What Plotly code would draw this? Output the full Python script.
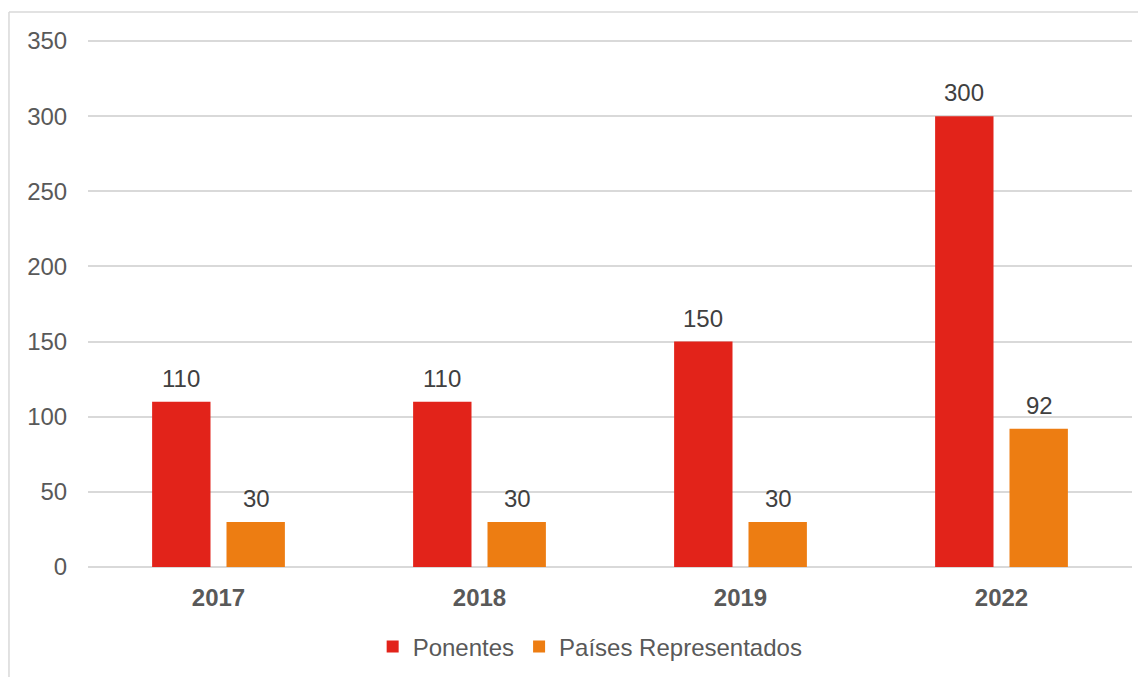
import plotly.graph_objects as go

years = ["2017", "2018", "2019", "2022"]
ponentes = [110, 110, 150, 300]
paises = [30, 30, 30, 92]
series_names = ["Ponentes", "Países Representados"]
colors = ["#E2231A", "#ED7D12"]
y_ticks = [0, 50, 100, 150, 200, 250, 300, 350]

FONT = "Liberation Sans, Arial, sans-serif"
TXT = "#595959"
FS = 24

fig = go.Figure()
for name, vals, col in zip(series_names, [ponentes, paises], colors):
    fig.add_trace(go.Bar(x=years, y=vals, name=name, marker_color=col,
                         marker_line_width=0))

# data labels (x given as category index)
for vals, shift in [(ponentes, -37.5), (paises, 37.5)]:
    for i, v in enumerate(vals):
        fig.add_annotation(x=i, y=v, xref="x", yref="y", text=str(v),
                           showarrow=False, xshift=shift, yanchor="bottom",
                           yshift=8,
                           font=dict(family=FONT, size=FS, color="#404040"))

# outer frame (chart area border); plot area spans 529px vertically
fig.add_shape(type="line", xref="paper", yref="paper",
              x0=-0.0757, x1=1.2, y0=1.0492, y1=1.0492,
              line=dict(color="#D9D9D9", width=1.5))
fig.add_shape(type="line", xref="paper", yref="paper",
              x0=-0.0757, x1=-0.0757, y0=1.0492, y1=-0.5,
              line=dict(color="#D9D9D9", width=1.5))

fig.update_layout(
    width=1146, height=677,
    margin=dict(l=80, r=22, t=30, b=118),
    paper_bgcolor="white", plot_bgcolor="white",
    barmode="group", bargap=0.43, bargroupgap=0.215,
    font=dict(family=FONT, size=FS, color=TXT),
    showlegend=True,
    legend=dict(orientation="h", x=0.481, xanchor="center", y=-0.151,
                yanchor="middle", font=dict(family=FONT, size=FS, color=TXT)),
    xaxis=dict(type="category", range=[-0.5, len(years) - 0.5],
               showgrid=False, showline=False,
               ticks="outside", ticklen=9, tickcolor="rgba(0,0,0,0)",
               tickfont=dict(family=FONT, size=FS, color=TXT, weight="bold")),
    yaxis=dict(range=[0, 352], tickvals=y_ticks, showgrid=True,
               gridcolor="#D9D9D9", gridwidth=1.5, zeroline=True,
               zerolinecolor="#D9D9D9", zerolinewidth=1.5, showline=False,
               ticks="outside", ticklen=15, tickcolor="rgba(0,0,0,0)",
               tickfont=dict(family=FONT, size=FS, color=TXT)),
)

fig.write_html("out.html")
